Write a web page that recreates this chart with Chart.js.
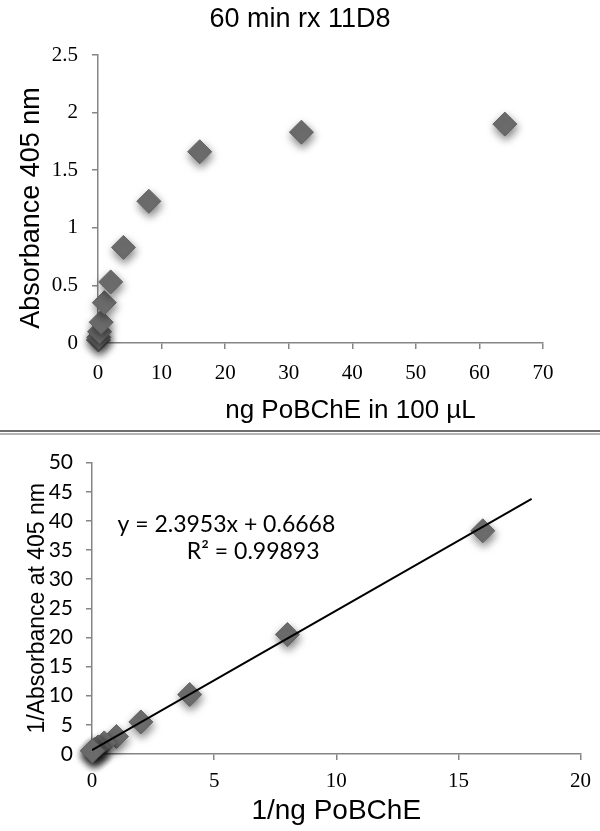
<!DOCTYPE html>
<html><head><meta charset="utf-8">
<script src="https://cdn.jsdelivr.net/npm/chart.js@4.4.1/dist/chart.umd.min.js"></script>
<style>
html,body{margin:0;padding:0;background:#fff;width:600px;height:831px;overflow:hidden;position:relative;}
#c1{position:absolute;left:0;top:0;}
#c2{position:absolute;left:0;top:437px;}
#sep1{position:absolute;left:0;top:430px;width:600px;height:2px;background:#6e6e6e;}
#sep2{position:absolute;left:0;top:433px;width:600px;height:2px;background:#b4b4b4;}
</style></head><body>
<canvas id="c1" width="600" height="430"></canvas>
<div id="sep1"></div><div id="sep2"></div>
<canvas id="c2" width="600" height="394"></canvas>
<script>
// ---- data ----
const ngAmount   = [0.0625, 0.125, 0.25, 0.5, 1, 2, 4, 8, 16, 32, 64];
const absorbance = [0.026, 0.049, 0.098, 0.18, 0.35, 0.53, 0.83, 1.23, 1.66, 1.83, 1.90];
const inverseNg  = [16, 8, 4, 2, 1, 0.5, 0.25, 0.125, 0.0625, 0.03125, 0.015625];
const inverseAbs = [38.3, 20.5, 10.2, 5.5, 3.0, 1.9, 1.2, 0.81, 0.60, 0.55, 0.53];
const trendX = [0, 18];
const trendY = [0.6668, 43.78];
const topTitle = '60 min rx 11D8';
const topXTitle = 'ng PoBChE in 100 µL';
const topYTitle = 'Absorbance 405 nm';
const botXTitle = '1/ng PoBChE';
const botYTitle = '1/Absorbance at 405 nm';
const eqLine1 = 'y = 2.3953x + 0.6668';
const eqLine2 = 'R² = 0.99893';
const topXRange = [0, 70, 10];
const topYRange = [0, 2.5, 0.5];
const botXRange = [0, 20, 5];
const botYRange = [0, 50, 5];

const axisColor = '#858585';
const markerFill = '#6e6e6e';

const shadowPlugin = {
  id: 'markerShadow',
  beforeDatasetDraw(chart, args) {
    if (!chart.data.datasets[args.index].showLine) {
      const ctx = chart.ctx;
      ctx.save();
      ctx.shadowColor = 'rgba(0,0,0,0.5)';
      ctx.shadowBlur = 8;
      ctx.shadowOffsetX = 1;
      ctx.shadowOffsetY = 4;
    }
  },
  afterDatasetDraw(chart, args) {
    if (!chart.data.datasets[args.index].showLine) chart.ctx.restore();
  }
};

// centre the chart title on the full canvas, and optionally shift axis titles
function wrapTitle(scale, dx, dy) {
  if (scale._shiftWrapped || (!dx && !dy)) return;
  const orig = scale.drawTitle;
  scale.drawTitle = function() {
    const l = this.left, r = this.right, t = this.top, b = this.bottom;
    this.left = l + dx; this.right = r + dx; this.top = t + dy; this.bottom = b + dy;
    orig.apply(this, arguments);
    this.left = l; this.right = r; this.top = t; this.bottom = b;
  };
  scale._shiftWrapped = true;
}
const layoutPlugin = {
  id: 'layoutTweak',
  afterLayout(chart, args, opts) {
    const tb = chart.titleBlock;
    if (tb && tb.options.display) { tb.left = 0; tb.right = chart.width; tb.width = chart.width; }
    wrapTitle(chart.scales.x, opts.xTitleShift || 0, 0);
    wrapTitle(chart.scales.y, 0, opts.yTitleShift || 0);
  }
};

function pts(xs, ys) { return xs.map((x, i) => ({x: x, y: ys[i]})); }

function axis(range, opts) {
  return Object.assign({
    type: 'linear',
    min: range[0], max: range[1],
    border: {display: true, color: axisColor, width: 1.5},
    grid: {display: true, drawOnChartArea: false, drawTicks: true, tickLength: 6, color: axisColor, lineWidth: 1.5},
  }, opts);
}

const markerStyle = {
  pointStyle: 'rectRot', pointRadius: 12, pointHoverRadius: 12,
  backgroundColor: markerFill, borderColor: '#626262', borderWidth: 1, clip: false
};

// ---- top chart ----
new Chart(document.getElementById('c1'), {
  type: 'scatter',
  data: {datasets: [Object.assign({data: pts(ngAmount, absorbance)}, markerStyle)]},
  plugins: [shadowPlugin, layoutPlugin],
  options: {
    responsive: false, animation: false,
    layout: {padding: {left: 0, right: 57, top: 3, bottom: 0}},
    plugins: {
      legend: {display: false}, tooltip: {enabled: false},
      layoutTweak: {xTitleShift: 30, yTitleShift: 9},
      title: {display: true, text: topTitle, color: '#000',
        font: {family: 'Liberation Sans', size: 27, weight: 'normal'},
        padding: {top: 0, bottom: 19.6}}
    },
    scales: {
      x: axis(topXRange, {
        ticks: {stepSize: topXRange[2], color: '#000', padding: 12,
          font: {family: 'Liberation Serif', size: 21}},
        title: {display: true, text: topXTitle, color: '#000',
          font: {family: 'Liberation Sans', size: 26}, padding: {top: 0, bottom: 4}},
        afterFit(s) { s.height = 87; }
      }),
      y: axis(topYRange, {
        ticks: {stepSize: topYRange[2], color: '#000', padding: 14,
          font: {family: 'Liberation Serif', size: 21},
          callback: v => String(v)},
        title: {display: true, text: topYTitle, color: '#000',
          font: {family: 'Liberation Sans', size: 27}, padding: {top: 15, bottom: 0}},
        afterFit(s) { s.width = 98; }
      })
    }
  }
});

// ---- bottom chart ----
const eqPlugin = {
  id: 'eqText',
  afterDatasetsDraw(chart) {
    const ctx = chart.ctx, xs = chart.scales.x, ys = chart.scales.y;
    ctx.save();
    ctx.font = '23px Lato';
    ctx.fillStyle = '#000';
    ctx.textAlign = 'center';
    ctx.textBaseline = 'middle';
    ctx.fillText(eqLine1, xs.getPixelForValue(5.5), ys.getPixelForValue(39.4));
    ctx.fillText(eqLine2, xs.getPixelForValue(6.6), ys.getPixelForValue(34.8));
    ctx.restore();
  }
};

new Chart(document.getElementById('c2'), {
  type: 'scatter',
  data: {datasets: [
    Object.assign({data: pts(inverseNg, inverseAbs), order: 2}, markerStyle),
    {
      data: pts(trendX, trendY), order: 1, showLine: true,
      borderColor: '#000', borderWidth: 2, pointRadius: 0, fill: false
    }
  ]},
  plugins: [shadowPlugin, eqPlugin],
  options: {
    responsive: false, animation: false,
    layout: {padding: {left: 0, right: 17, top: 17, bottom: 0}},
    plugins: {legend: {display: false}, tooltip: {enabled: false}},
    scales: {
      x: axis(botXRange, {
        ticks: {stepSize: botXRange[2], color: '#000', padding: 9,
          font: {family: 'Liberation Serif', size: 21}},
        title: {display: true, text: botXTitle, color: '#000',
          font: {family: 'Liberation Sans', size: 28}, padding: {top: 0, bottom: 3}},
        afterFit(s) { s.height = 77; }
      }),
      y: axis(botYRange, {
        ticks: {stepSize: botYRange[2], color: '#000', padding: 13,
          font: {family: 'Lato', size: 21}},
        title: {display: true, text: botYTitle, color: '#000',
          font: {family: 'Liberation Sans', size: 23}, padding: {top: 24, bottom: 0}},
        afterFit(s) { s.width = 92; }
      })
    }
  }
});
</script>
</body></html>
